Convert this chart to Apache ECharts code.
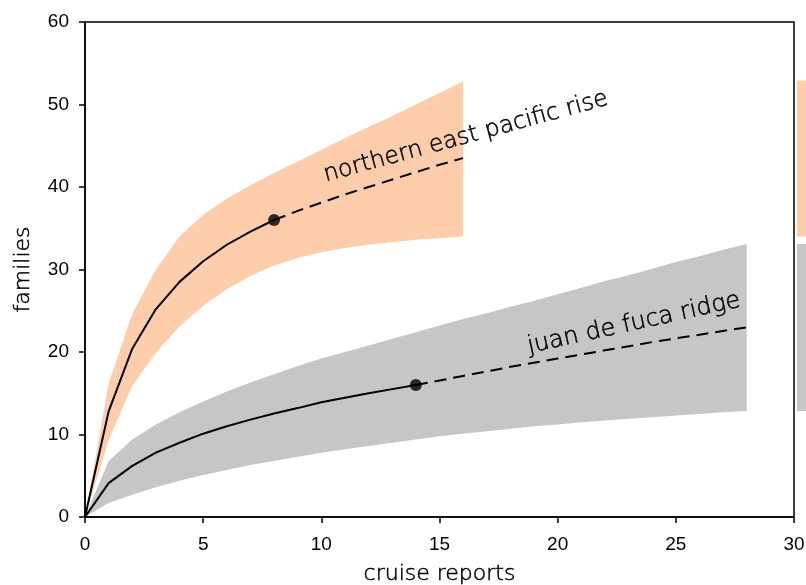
<!DOCTYPE html>
<html><head><meta charset="utf-8">
<script src="https://cdn.jsdelivr.net/npm/echarts@6/dist/echarts.min.js"></script>
<style>html,body{margin:0;padding:0;background:#fff}#c{width:806px;height:585px}</style>
</head><body><div id="c"></div>
<script>
// ---- data ----
const epXSolid = [0,1,2,3,4,5,6,7,8];
const epMeanSolid = [0,12.8,20.4,25.2,28.5,31.0,33.0,34.6,36.0];
const epXDash = [8,9,10,11,12,13,14,15,16];
const epMeanDash = [36.0,37.1,38.1,39.1,40.0,40.9,41.8,42.7,43.5];
const epX = [0,1,2,3,4,5,6,7,8,9,10,11,12,13,14,15,16];
const epUpper = [0,16.2,24.6,30.0,34.0,36.6,38.6,40.2,41.7,43.1,44.5,45.9,47.3,48.6,50.0,51.4,52.8];
const epLower = [0,9.3,15.9,19.9,23.1,25.6,27.6,29.2,30.5,31.4,32.1,32.6,33.0,33.3,33.6,33.8,34.0];

const jfXSolid = [0,1,2,3,4,5,6,7,8,9,10,11,12,13,14];
const jfMeanSolid = [0,4.1,6.2,7.8,9.0,10.1,11.0,11.8,12.55,13.2,13.9,14.45,15.0,15.5,16.0];
const jfXDash = [14,16,18,20,22,24,26,28];
const jfMeanDash = [16.0,17.1,18.2,19.2,20.2,21.2,22.1,23.0];
const jfX = [0,1,2,3,4,5,6,7,8,9,10,11,12,13,14,15,16,17,18,19,20,21,22,23,24,25,26,27,28];
const jfUpper = [0,6.8,9.4,11.2,12.7,14.0,15.2,16.3,17.3,18.3,19.2,20.0,20.8,21.6,22.4,23.2,24.0,24.7,25.5,26.2,27.0,27.8,28.6,29.3,30.1,30.9,31.6,32.4,33.1];
const jfLower = [0,1.7,2.7,3.6,4.4,5.1,5.7,6.3,6.8,7.3,7.8,8.2,8.6,9.0,9.4,9.8,10.1,10.4,10.7,11.0,11.2,11.5,11.7,11.9,12.1,12.3,12.5,12.7,12.85];

const observedPoints = [[8,36.0],[14,16.0]];
const asymptoteRanges = [[34.0,52.9],[12.85,33.1]]; // [lo, hi] per region
const regionNames = ['northern east pacific rise','juan de fuca ridge'];
const labelAnchors = [[10.25,40.0],[18.85,19.2]];
const labelRotation = [15.2,12.4];
const labelSizes = [23.5,24];

const xTicks = {min:0,max:30,interval:5};
const yTicks = {min:0,max:60,interval:10};

const ORANGE = '#FECDAB', GRAY = '#C6C6C6';
const gothic = '"DejaVu Sans", sans-serif';
const arial = '"Liberation Sans", Arial, sans-serif';

const zip = (xs, ys) => xs.map((x,i)=>[x,ys[i]]);

const chart = echarts.init(document.getElementById('c'), null, {renderer:'canvas'});

function band(xs, lower, upper, color){
  return {type:'custom', z:1, silent:true, clip:true,
    data:[[xs[0], lower[0]]],
    renderItem:(params, api)=>{
      const pts = [];
      for (let i=0;i<xs.length;i++) pts.push(api.coord([xs[i], upper[i]]));
      for (let i=xs.length-1;i>=0;i--) pts.push(api.coord([xs[i], lower[i]]));
      return {type:'polygon', shape:{points:pts}, style:{fill:color, stroke:null}};
    }};
}
function line(xs, ys, dashed){
  return {type:'line', data:zip(xs,ys), symbol:'none', z:3,
    lineStyle:{color:'#000', width:2, type: dashed ? [12,7] : 'solid'}};
}

const axisCommon = {
  axisLine:{show:true, onZero:false, lineStyle:{color:'#000', width:1.5}},
  axisTick:{show:true, inside:false, length:6, lineStyle:{color:'#000', width:1.5}},
  splitLine:{show:false}
};
const titleStyle = {color:'#000', fontSize:22, fontFamily:gothic, fontWeight:200,
  textBorderColor:'#000', textBorderWidth:0.5};

chart.setOption({
  animation:false,
  grid:[
    {left:85, top:22, width:709, height:495, show:true, borderColor:'#000', borderWidth:1.5,
     containLabel:false, outerBoundsMode:'none'},
    {left:797, top:22, width:40, height:495, show:false, outerBoundsMode:'none'}
  ],
  xAxis:[
    Object.assign({type:'value', gridIndex:0, min:xTicks.min, max:xTicks.max, interval:xTicks.interval,
      name:'cruise reports', nameLocation:'middle', nameGap:46, nameTextStyle:titleStyle,
      axisLabel:{color:'#000', fontSize:19, fontFamily:arial, margin:18}}, axisCommon),
    {type:'value', gridIndex:1, min:0, max:1, show:false}
  ],
  yAxis:[
    Object.assign({type:'value', gridIndex:0, min:yTicks.min, max:yTicks.max, interval:yTicks.interval,
      name:'families', nameLocation:'middle', nameGap:51, nameTextStyle:titleStyle,
      axisLabel:{color:'#000', fontSize:19, fontFamily:arial, margin:16}}, axisCommon),
    {type:'value', gridIndex:1, min:yTicks.min, max:yTicks.max, show:false}
  ],
  series:[
    band(jfX, jfLower, jfUpper, GRAY),
    band(epX, epLower, epUpper, ORANGE),
    line(jfXSolid, jfMeanSolid, false),
    line(jfXDash, jfMeanDash, true),
    line(epXSolid, epMeanSolid, false),
    line(epXDash, epMeanDash, true),
    {type:'scatter', data:observedPoints, symbolSize:12, itemStyle:{color:'#000'}, z:4},
    {type:'custom', xAxisIndex:1, yAxisIndex:1, z:2,
     data: asymptoteRanges.map((r,i)=>[r[0],r[1],i]),
     renderItem:(params, api)=>{
       const p0 = api.coord([0, api.value(1)]);
       const p1 = api.coord([1, api.value(0)]);
       return {type:'rect', shape:{x:p0[0], y:p0[1], width:p1[0]-p0[0], height:p1[1]-p0[1]},
               style:{fill: api.value(2)===0 ? ORANGE : GRAY}};
     }}
  ]
});

const graphics = regionNames.map((t,i)=>{
  const p = chart.convertToPixel({gridIndex:0}, labelAnchors[i]);
  return {type:'text', x:p[0], y:p[1], rotation: labelRotation[i]*Math.PI/180, z:10,
    style:{text:t, fill:'#000', stroke:'#000', lineWidth:0.5,
      font:'200 '+labelSizes[i]+'px '+gothic, textVerticalAlign:'bottom', textAlign:'left'}};
});
chart.setOption({graphic:graphics});
</script></body></html>
